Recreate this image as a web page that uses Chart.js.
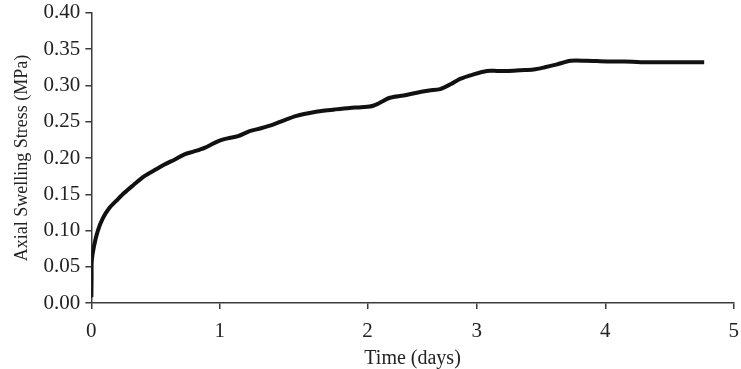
<!DOCTYPE html>
<html>
<head>
<meta charset="utf-8">
<script src="https://cdn.jsdelivr.net/npm/chart.js@4.4.1/dist/chart.umd.min.js"></script>
<style>
  html, body { margin: 0; padding: 0; background: #fff; }
  #wrap { width: 741px; height: 369px; }
</style>
</head>
<body>
<div id="wrap"><canvas id="swell"></canvas></div>
<script>
"use strict";

// values
var timeDays = [0.0, 0.002, 0.003, 0.02, 0.049, 0.09, 0.14, 0.2, 0.257, 0.33, 0.413, 0.49, 0.569, 0.65, 0.725, 0.8, 0.881, 0.985,
    1.06, 1.141, 1.232, 1.32, 1.414, 1.5, 1.597, 1.7, 1.804, 1.9, 2.012, 2.1, 2.194, 2.324, 2.43, 2.533, 2.63, 2.714,
    2.8, 2.87, 2.97, 3.079, 3.16, 3.235, 3.34, 3.442, 3.53, 3.625, 3.729, 3.85, 4.015, 4.15, 4.275, 4.5, 4.77];
var stressMPa = [0.008, 0.037, 0.058, 0.078, 0.099, 0.117, 0.131, 0.142, 0.152, 0.163, 0.175, 0.183, 0.191, 0.198, 0.205, 0.209, 0.214, 0.223,
    0.227, 0.230, 0.237, 0.241, 0.246, 0.252, 0.258, 0.262, 0.265, 0.267, 0.269, 0.270, 0.272, 0.283, 0.286, 0.290, 0.293, 0.295,
    0.302, 0.309, 0.315, 0.320, 0.320, 0.320, 0.321, 0.322, 0.325, 0.329, 0.334, 0.334, 0.333, 0.333, 0.332, 0.332, 0.332];
var xTickAt = [0, 1, 2.15, 3, 4, 5];
var xTickLabels = ["0", "1", "2", "3", "4", "5"];

var points = [];
for (var i = 0; i < timeDays.length; i++) {
    points.push({ x: timeDays[i], y: stressMPa[i] });
}

var serif = "'Liberation Serif', 'Times New Roman', serif";
var ink = "#3a3a3a";

new Chart(document.getElementById("swell"), {
    type: "scatter",
    data: {
        datasets: [{
            data: points,
            showLine: true,
            borderColor: "#111",
            borderWidth: 4,
            pointRadius: 0,
            tension: 0.3
        }]
    },
    options: {
        responsive: true,
        maintainAspectRatio: false,
        animation: false,
        layout: { padding: { top: 0, right: 0, left: 11, bottom: 4 } },
        plugins: { legend: { display: false }, tooltip: { enabled: false } },
        scales: {
            x: {
                type: "linear",
                min: 0,
                max: 5,
                afterBuildTicks: function (axis) {
                    axis.ticks = xTickAt.map(function (v) { return { value: v }; });
                },
                ticks: {
                    color: "#222",
                    font: { family: serif, size: 21, lineHeight: 1.9 },
                    padding: 2,
                    maxRotation: 0,
                    callback: function (v, idx) { return xTickLabels[idx]; }
                },
                grid: { drawOnChartArea: false, drawTicks: true, tickLength: 6, color: ink, lineWidth: 1.5 },
                border: { display: true, color: ink, width: 1.5 },
                title: {
                    display: true,
                    text: "Time (days)",
                    color: "#222",
                    font: { family: serif, size: 20, lineHeight: 0.6 },
                    padding: { top: 0, bottom: 0 }
                }
            },
            y: {
                min: 0,
                max: 0.4,
                ticks: {
                    stepSize: 0.05,
                    color: "#222",
                    font: { family: serif, size: 21, lineHeight: 0.75 },
                    padding: 5,
                    callback: function (v) { return v.toFixed(2); }
                },
                grid: { drawOnChartArea: false, drawTicks: true, tickLength: 6, color: ink, lineWidth: 1.5 },
                border: { display: true, color: ink, width: 1.5 },
                title: {
                    display: true,
                    text: "Axial Swelling Stress (MPa)",
                    color: "#222",
                    font: { family: serif, size: 18 },
                    padding: { top: 0, bottom: 6 }
                }
            }
        }
    }
});
</script>
</body>
</html>
